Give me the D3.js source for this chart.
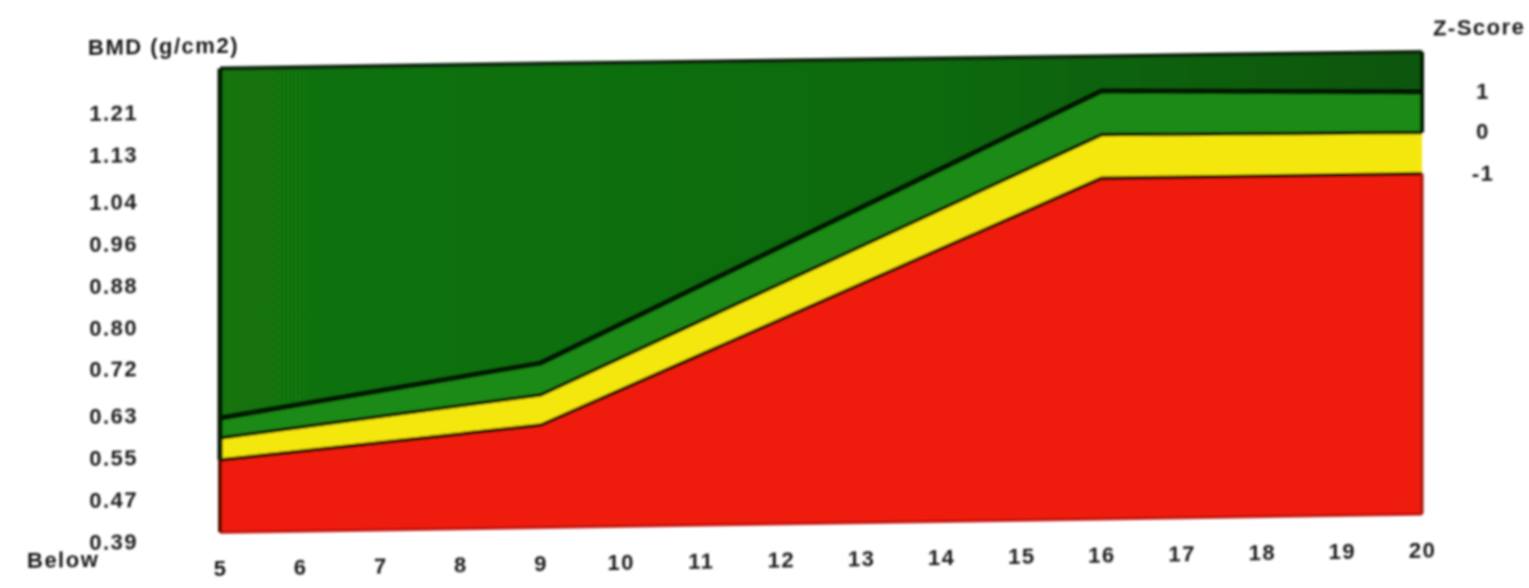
<!DOCTYPE html>
<html>
<head>
<meta charset="utf-8">
<script src="https://cdn.jsdelivr.net/npm/d3@7/dist/d3.min.js"></script>
<style>
  html, body { margin: 0; padding: 0; background: #ffffff; overflow: hidden; }
  text { font-family: "Liberation Sans", Arial, sans-serif; font-weight: bold; fill: #1c1c1c; letter-spacing: 1.5px; }
</style>
</head>
<body>
<svg id="chart" width="1529" height="588"></svg>
<script>
// ---- data ----
const ages      = [5, 9, 16, 20];
const bandTop   = [1.292, 1.292, 1.290, 1.289];   // upper edge of the chart area
const zPlus1    = [0.624, 0.720, 1.224, 1.213];   // Z-score +1 curve
const zZero     = [0.586, 0.659, 1.140, 1.135];   // Z-score 0 curve
const zMinus1   = [0.544, 0.601, 1.057, 1.056];   // Z-score -1 curve
const bandFloor = [0.406, 0.406, 0.406, 0.406];   // lower edge of the chart area
const xTickValues = [5, 6, 7, 8, 9, 10, 11, 12, 13, 14, 15, 16, 17, 18, 19, 20];
const yTickValues = [0.39, 0.47, 0.55, 0.63, 0.72, 0.80, 0.88, 0.96, 1.04, 1.13, 1.21];
const zTickLabels = ["1", "0", "-1"];
const yTitle = "BMD (g/cm2)";
const zTitle = "Z-Score";
const belowLabel = "Below";

// ---- layout ----
const svg = d3.select("#chart");
const defs = svg.append("defs");
defs.append("filter").attr("id", "soft")
  .attr("x", "-5%").attr("y", "-5%").attr("width", "110%").attr("height", "110%")
  .append("feGaussianBlur").attr("stdDeviation", 1.0);
const grad = defs.append("linearGradient").attr("id", "topGreen")
  .attr("x1", "0").attr("x2", "1").attr("y1", "0").attr("y2", "0");
grad.append("stop").attr("offset", "0").attr("stop-color", "#127411");
grad.append("stop").attr("offset", "0.6").attr("stop-color", "#106a0e");
grad.append("stop").attr("offset", "1").attr("stop-color", "#0c560b");

// the scanned original is slightly tilted; mimic with a small skew
const g = svg.append("g")
  .attr("filter", "url(#soft)")
  .attr("transform", "translate(220,0) skewY(-0.87) translate(-220,0)");

const x = d3.scaleLinear().domain([5, 20]).range([220, 1422]);
const y = d3.scaleLinear().domain([0.39, 1.21]).range([540.5, 111.5]);

const rows = ages.map((a, i) => ({
  age: a, top: bandTop[i], p1: zPlus1[i], z0: zZero[i], m1: zMinus1[i], floor: bandFloor[i]
}));

function band(lo, hi) {
  return d3.area().x(d => x(d.age)).y0(d => y(d[lo])).y1(d => y(d[hi]));
}
const bands = [
  { lo: "p1",    hi: "top", fill: "url(#topGreen)" },
  { lo: "z0",    hi: "p1",  fill: "#1f8a14" },
  { lo: "m1",    hi: "z0",  fill: "#f4e70d" },
  { lo: "floor", hi: "m1",  fill: "#ef1b0b" }
];
bands.forEach(b => {
  g.append("path").datum(rows).attr("d", band(b.lo, b.hi)).attr("fill", b.fill);
});

// boundary lines
function curve(key) { return d3.line().x(d => x(d.age)).y(d => y(d[key])); }
const lines = [
  { key: "top",   stroke: "#0a2608", w: 4 },
  { key: "p1",    stroke: "#051604", w: 5.5 },
  { key: "z0",    stroke: "#0a1a06", w: 3.5 },
  { key: "m1",    stroke: "#2e0702", w: 3.5 },
  { key: "floor", stroke: "#c4140a", w: 3 }
];
lines.forEach(l => {
  g.append("path").datum(rows).attr("d", curve(l.key))
    .attr("fill", "none").attr("stroke", l.stroke).attr("stroke-width", l.w);
});

// side edges
const first = rows[0], last = rows[rows.length - 1];
g.append("line").attr("x1", x(first.age)).attr("x2", x(first.age))
  .attr("y1", y(first.top)).attr("y2", y(first.m1))
  .attr("stroke", "#061a05").attr("stroke-width", 5);
g.append("line").attr("x1", x(first.age)).attr("x2", x(first.age))
  .attr("y1", y(first.m1)).attr("y2", y(first.floor))
  .attr("stroke", "#5a0c04").attr("stroke-width", 4);
g.append("line").attr("x1", x(last.age)).attr("x2", x(last.age))
  .attr("y1", y(last.top)).attr("y2", y(last.z0))
  .attr("stroke", "#061a05").attr("stroke-width", 4);
g.append("line").attr("x1", x(last.age)).attr("x2", x(last.age))
  .attr("y1", y(last.m1)).attr("y2", y(last.floor))
  .attr("stroke", "#a8120a").attr("stroke-width", 3);

// left axis (BMD)
const yAxis = d3.axisLeft(y).tickValues(yTickValues).tickSize(0).tickPadding(0)
  .tickFormat(d3.format(".2f"));
const yg = g.append("g").attr("transform", "translate(138,0)").call(yAxis);
yg.select(".domain").remove();
yg.selectAll("text").attr("font-size", 22).attr("fill", "#1c1c1c")
  .style("font-family", null);

// bottom axis (age)
const xAxis = d3.axisBottom(x).tickValues(xTickValues).tickSize(0).tickPadding(0)
  .tickFormat(d3.format("d"));
const xg = g.append("g").attr("transform", "translate(0,560)").call(xAxis);
xg.select(".domain").remove();
xg.selectAll("text").attr("font-size", 22).attr("fill", "#1c1c1c")
  .style("font-family", null);

// right axis (Z-score) placed at the curve ends
const zVals = [last.p1, last.z0, last.m1];
g.selectAll(".zlab").data(zTickLabels).join("text").attr("class", "zlab")
  .attr("x", 1483).attr("y", (d, i) => y(zVals[i]))
  .attr("dy", "0.35em").attr("text-anchor", "middle").attr("font-size", 22)
  .text(d => d);

// titles
g.append("text").attr("x", 88).attr("y", 45).attr("dy", "0.35em")
  .attr("font-size", 22).text(yTitle);
g.append("text").attr("x", 1433).attr("y", 46).attr("dy", "0.35em")
  .attr("font-size", 22).text(zTitle);
g.append("text").attr("x", 27).attr("y", 557).attr("dy", "0.35em")
  .attr("font-size", 22).text(belowLabel);
</script>
</body>
</html>
